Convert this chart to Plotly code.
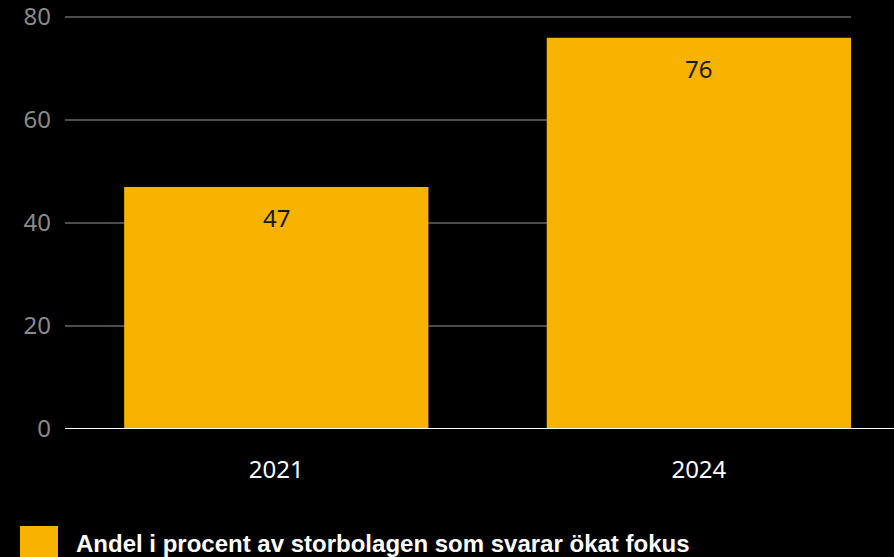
import plotly.graph_objects as go

categories = ["2021", "2024"]
values = [47, 76]
y_ticks = [0, 20, 40, 60, 80]
legend_label = "Andel i procent av storbolagen som svarar ökat fokus"
bar_color = "#F8B200"

W, H = 894, 557
L, R, T, B = 65, 43, 15, 128

fig = go.Figure()
fig.add_trace(go.Bar(
    x=categories, y=values, marker=dict(color=bar_color, line=dict(width=0)),
    width=0.72, showlegend=False, hoverinfo="skip",
))

for i, v in enumerate(values):
    fig.add_annotation(x=i, y=v, text=str(v), showarrow=False, yshift=-31,
                       font=dict(family="Noto Sans", size=24, color="#1a1a1a"))

plot_w = W - L - R
plot_h = H - T - B
fig.add_shape(type="line", xref="paper", yref="y", x0=0, x1=(W - L) / plot_w,
              y0=0, y1=0, line=dict(color="white", width=2))

# legend swatch + text
fig.add_shape(type="rect", xref="paper", yref="paper",
              x0=(20 - L) / plot_w, x1=(58 - L) / plot_w,
              y0=(H - B - 560) / plot_h, y1=(H - B - 526) / plot_h,
              fillcolor=bar_color, line=dict(width=0))
fig.add_annotation(xref="paper", yref="paper", x=(74 - L) / plot_w,
                   y=(H - B - 543) / plot_h, xanchor="left", yanchor="middle",
                   text="<b>" + legend_label + "</b>", showarrow=False,
                   font=dict(family="Liberation Sans", size=24, color="white"))

fig.update_layout(
    width=W, height=H, margin=dict(l=L, r=R, t=T, b=B, autoexpand=False),
    paper_bgcolor="black", plot_bgcolor="black",
    bargap=0.28,
    xaxis=dict(type="category", range=[-0.5, 1.36], showgrid=False, zeroline=False,
               showline=False, ticks="", ticklabelstandoff=24, automargin=False,
               tickfont=dict(family="Noto Sans", size=24, color="white")),
    yaxis=dict(range=[0, 80.4], tickvals=y_ticks, showgrid=True, gridcolor="#4d4d4d",
               gridwidth=1.5, zeroline=False, showline=False, ticks="",
               ticklabelstandoff=13, automargin=False, ticklabeloverflow="allow",
               tickfont=dict(family="Noto Sans", size=24, color="#8a8a8a")),
)

fig.write_html("out.html", config={"displayModeBar": False},
               post_script="document.body.style.margin='0';document.body.style.background='black';")
